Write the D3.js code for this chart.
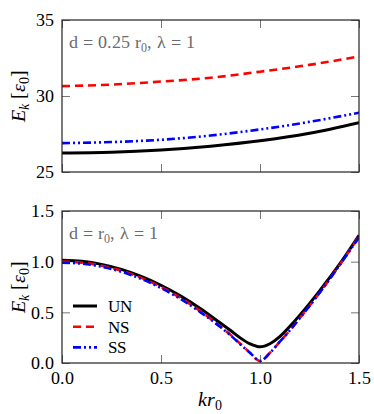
<!DOCTYPE html>
<html>
<head>
<meta charset="utf-8">
<script src="https://cdn.jsdelivr.net/npm/d3@7"></script>
<style>
  @font-face { font-family: "ChartSerif"; src: local("Liberation Serif"), local("LiberationSerif"), local("Liberation Serif Regular"), local("LiberationSerif-Regular"); font-style: normal; }
  @font-face { font-family: "ChartSerif"; src: local("Liberation Serif Italic"), local("LiberationSerif-Italic"); font-style: italic; }
  body { margin: 0; }
  #chart text { font-family: "ChartSerif", "Liberation Serif", "Times New Roman", Tinos; }
</style>
</head>
<body>
<svg id="chart" width="374" height="414"></svg>
<script>
// ── data ────────────────────────────────────────────────────────────────────
// top panel: d = 0.25 r0
const topK  = [0, 0.25, 0.5, 0.75, 1.0, 1.25, 1.5];
const topUN = [26.25, 26.3, 26.45, 26.7, 27.05, 27.55, 28.25];
const topNS = [30.65, 30.75, 30.95, 31.2, 31.6, 32.05, 32.6];
const topSS = [26.9, 26.97, 27.12, 27.4, 27.8, 28.3, 28.9];

// bottom panel: d = r0
const botK  = [0, 0.1, 0.2, 0.3, 0.4, 0.5, 0.6, 0.7, 0.8, 0.85, 0.9, 0.95, 1.0,
               1.05, 1.1, 1.15, 1.2, 1.3, 1.4, 1.5];
const botUN = [1.013, 1.003, 0.973, 0.924, 0.855, 0.767, 0.66, 0.535, 0.394, 0.323,
               0.248, 0.189, 0.16, 0.19, 0.26, 0.36, 0.47, 0.71, 0.97, 1.26];
const botNS = [1.0, 0.99, 0.96, 0.91, 0.84, 0.75, 0.64, 0.51, 0.36, 0.28,
               0.19, 0.10, 0.02, 0.10, 0.21, 0.32, 0.44, 0.69, 0.96, 1.25];
const botSS = [0.99, 0.98, 0.95, 0.9, 0.83, 0.74, 0.63, 0.5, 0.355, 0.275,
               0.185, 0.1, 0.02, 0.1, 0.21, 0.32, 0.44, 0.69, 0.96, 1.24];

const xTicks    = [0, 0.5, 1.0, 1.5];
const topYTicks = [25, 30, 35];
const botYTicks = [0, 0.5, 1.0, 1.5];
const seriesNames = ['UN', 'NS', 'SS'];

// ── styles ──────────────────────────────────────────────────────────────────
const STYLE = {
    UN: { color: '#000', width: 3,   dash: null },
    NS: { color: '#ff0000', width: 2.6, dash: '8,5' },
    SS: { color: '#0000ff', width: 2.6, dash: '8,3,2,3,2,3' }
};

const svg = d3.select('#chart');
const L = 62, R = 359;
const x = d3.scaleLinear().domain([0, 1.5]).range([L, R]);

function panel(top, bottom, yDomain, yTicks, fmt, series, label, showX) {
    const y = d3.scaleLinear().domain(yDomain).range([bottom, top]);
    const g = svg.append('g');

    // inward ticks on all four sides
    const tick = 8;
    g.append('g').attr('transform', `translate(0,${bottom})`)
        .call(d3.axisBottom(x).tickValues(xTicks).tickSize(-tick).tickPadding(8)
            .tickFormat(showX ? d3.format('.1f') : ''));
    g.append('g').attr('transform', `translate(0,${top})`)
        .call(d3.axisTop(x).tickValues(xTicks).tickSize(-tick).tickFormat(''));
    g.append('g').attr('transform', `translate(${L},0)`)
        .call(d3.axisLeft(y).tickValues(yTicks).tickSize(-tick).tickPadding(8).tickFormat(fmt));
    g.append('g').attr('transform', `translate(${R},0)`)
        .call(d3.axisRight(y).tickValues(yTicks).tickSize(-tick).tickFormat(''));

    g.selectAll('.domain').remove();
    g.selectAll('g').attr('font-family', null);
    g.selectAll('.tick line').attr('stroke', '#777').attr('stroke-width', 1);
    g.selectAll('.tick text').attr('font-size', 18).attr('fill', '#000');

    // curves
    const clipId = 'clip' + top;
    svg.append('clipPath').attr('id', clipId)
        .append('rect').attr('x', L).attr('y', top - 2)
        .attr('width', R - L).attr('height', bottom - top + 2);
    const line = d3.line().x(d => x(d[0])).y(d => y(d[1])).curve(d3.curveMonotoneX);
    const cg = g.append('g').attr('clip-path', `url(#${clipId})`);
    series.forEach(s => {
        const st = STYLE[s.name];
        cg.append('path')
            .datum(s.k.map((k, i) => [k, s.v[i]]))
            .attr('fill', 'none')
            .attr('stroke', st.color)
            .attr('stroke-width', st.width)
            .attr('stroke-dasharray', st.dash)
            .attr('d', line);
    });

    // frame
    g.append('rect').attr('x', L).attr('y', top)
        .attr('width', R - L).attr('height', bottom - top)
        .attr('fill', 'none').attr('stroke', '#222').attr('stroke-width', 1.2);

    // annotation
    const t = svg.append('text').attr('x', L + 7).attr('y', top + 28)
        .attr('font-size', 18).attr('fill', '#6b6b6b');
    label.forEach(p => {
        const ts = t.append('tspan').text(p.t);
        if (p.sub) ts.attr('font-size', 12).attr('dy', 4);
        if (p.up) ts.attr('dy', -4);
    });

    // y label
    const yl = svg.append('text')
        .attr('transform', `translate(25,${(top + bottom) / 2}) rotate(-90)`)
        .attr('text-anchor', 'middle').attr('font-size', 20).attr('fill', '#000');
    yl.append('tspan').attr('font-style', 'italic').text('E');
    yl.append('tspan').attr('font-style', 'italic').attr('font-size', 14).attr('dy', 4).text('k');
    yl.append('tspan').attr('dy', -4).text(' [');
    yl.append('tspan').attr('font-style', 'italic').text('ε');
    yl.append('tspan').attr('font-size', 14).attr('dy', 4).text('0');
    yl.append('tspan').attr('dy', -4).text(']');
}

panel(20, 172, [25, 35], topYTicks, d3.format('d'), [
    { name: 'NS', k: topK, v: topNS },
    { name: 'SS', k: topK, v: topSS },
    { name: 'UN', k: topK, v: topUN }
], [
    { t: 'd = 0.25 r' }, { t: '0', sub: true }, { t: ', λ = 1', up: true }
], false);

panel(211, 363, [0, 1.5], botYTicks, d3.format('.1f'), [
    { name: 'UN', k: botK, v: botUN },
    { name: 'NS', k: botK, v: botNS },
    { name: 'SS', k: botK, v: botSS }
], [
    { t: 'd = r' }, { t: '0', sub: true }, { t: ', λ = 1', up: true }
], true);

// x axis label
const xl = svg.append('text').attr('x', 210).attr('y', 406)
    .attr('text-anchor', 'middle').attr('font-size', 20);
xl.append('tspan').attr('font-style', 'italic').text('kr');
xl.append('tspan').attr('font-size', 14).attr('dy', 4).text('0');

// legend
seriesNames.forEach((n, i) => {
    const st = STYLE[n];
    const yy = 306 + i * 20.7;
    svg.append('line').attr('x1', 73).attr('x2', 97).attr('y1', yy).attr('y2', yy)
        .attr('stroke', st.color).attr('stroke-width', st.width)
        .attr('stroke-dasharray', st.dash);
    svg.append('text').attr('x', 108).attr('y', yy + 6)
        .attr('font-size', 17).text(n);
});
</script>
</body>
</html>
